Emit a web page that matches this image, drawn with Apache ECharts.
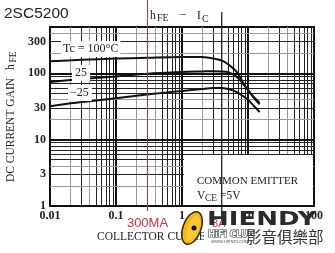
<!DOCTYPE html>
<html><head><meta charset="utf-8">
<script src="https://cdn.jsdelivr.net/npm/echarts@6/dist/echarts.min.js"></script>
<style>html,body{margin:0;padding:0;background:#fff}#c{width:335px;height:253px}</style>
</head><body><div id="c"></div>
<script>
// ---- data ----
const xTickValues = [0.01, 0.1, 1, 10, 100];
const yTickLabels = [1, 3, 10, 30, 100, 300];
const xMajor = [0.1, 1, 10];
const yMajor = [10, 100];
const multiples = [2, 3, 4, 5, 6, 7, 8, 9];
const xDecades = [0.01, 0.1, 1, 10];
const yDecades = [1, 10, 100];
const yTopLimit = 500;
const curveTc100 = [[0.01,152],[0.03,160],[0.1,167],[0.3,172],[1,177],[2,176],[3,168],[4,156],[5,137],[6,118],[7,100],[8,80],[9,65],[10,56],[12,44],[15,34]];
const curveTc25 = [[0.01,74],[0.03,82],[0.1,90],[0.3,99],[1,105],[2,107],[3,108],[4,107],[5,104],[6,96],[7,86],[8,74],[10,56],[12,45],[15,36]];
const curveTcM25 = [[0.01,32],[0.03,37],[0.1,42],[0.3,48],[1,54],[2,58],[3,60],[4,60],[5,58],[6,55],[7,51],[8,47],[10,40],[12,33],[15,26]];
const markerRed = 0.3;     // 300MA
const markerBlack = 4;     // 3A marker line

const SERIF = "'Liberation Serif','DejaVu Serif',serif";
const SANS = "'Liberation Sans',Arial,sans-serif";

// grid lines
const tickLabel = v => ({show: true, position: 'start', formatter: String(v), distance: 4, color: '#222', fontFamily: SERIF, fontSize: 12, fontWeight: 'bold'});
const gridLines = [];
xDecades.forEach(d => multiples.forEach(m => {
  const v = +(d * m).toPrecision(3);
  gridLines.push({xAxis: v, lineStyle: {color: (m === 2 || m === 4) ? '#9a9a9a' : '#222', width: 1, type: 'solid'}, label: {show: false}});
}));
xMajor.forEach(v => gridLines.push({xAxis: v, lineStyle: {color: '#111', width: 2, type: 'solid'}, label: {show: false}}));
yDecades.forEach(d => multiples.forEach(m => {
  const v = d * m;
  if (v >= yTopLimit) return;
  const isLab = yTickLabels.indexOf(v) >= 0;
  gridLines.push({yAxis: v, lineStyle: {color: (m === 2 || m === 4) ? '#9a9a9a' : '#222', width: 1, type: 'solid'},
    label: isLab ? tickLabel(v) : {show: false}});
}));
yMajor.concat([1]).forEach(v => gridLines.push({yAxis: v, lineStyle: {color: '#111', width: 2, type: 'solid'}, label: tickLabel(v)}));

const chart = echarts.init(document.getElementById('c'), null, {renderer: 'canvas'});
const curveStyle = {color: '#111', width: 2};
const mkCurve = (name, data) => ({type: 'line', name, data, smooth: 0.3, symbol: 'none', lineStyle: curveStyle, z: 5, silent: true, animation: false});

chart.setOption({
  animation: false,
  grid: {left: 50, top: 27, right: 21, bottom: 47, show: true, borderColor: '#111', borderWidth: 2, backgroundColor: '#fff'},
  xAxis: {type: 'log', logBase: 10, min: xTickValues[0], max: xTickValues[xTickValues.length - 1],
    axisLine: {show: false}, axisTick: {show: false}, splitLine: {show: false},
    axisLabel: {margin: 4, color: '#222', fontFamily: SERIF, fontSize: 12, fontWeight: 'bold',
      formatter: v => String(+(+v).toPrecision(3))}},
  yAxis: {type: 'log', logBase: 10, min: 1, max: yTopLimit,
    axisLine: {show: false}, axisTick: {show: false}, splitLine: {show: false}, axisLabel: {show: false}},
  series: [
    {type: 'line', data: [], z: 1, silent: true,
      markLine: {silent: true, symbol: ['none', 'none'], animation: false, data: gridLines, emphasis: {disabled: true}}},
    mkCurve('100', curveTc100),
    mkCurve('25', curveTc25),
    mkCurve('-25', curveTcM25)
  ]
});

const px = v => chart.convertToPixel({xAxisIndex: 0}, v);
const xr = px(markerRed), xb = px(markerBlack);

const txt = (x, y, text, font, fill, extra, z) => ({type: 'text', z: z || 50, x, y,
  style: Object.assign({text, font, fill: fill || '#222', align: 'left', verticalAlign: 'middle'}, extra || {})});

chart.setOption({graphic: {elements: [
  // white box behind COMMON EMITTER
  {type: 'rect', z: 40, shape: {x: 184, y: 155, width: 129, height: 50}, style: {fill: '#fff'}},
  txt(197, 181, 'COMMON EMITTER', '11px ' + SERIF, '#222'),
  txt(197, 196, 'V', '11.5px ' + SERIF, '#222'),
  txt(205, 198, 'CE', '9.5px ' + SERIF, '#222'),
  txt(220, 196, '=5V', '11.5px ' + SERIF, '#222'),
  // curve labels
  txt(61, 49, 'Tc = 100°C', '12px ' + SERIF, '#222', {backgroundColor: '#fff', padding: [2, 2, 2, 2]}),
  txt(72, 73, '25', '12px ' + SERIF, '#222', {backgroundColor: '#fff', padding: [2, 3, 2, 3]}),
  txt(68, 93, '−25', '12px ' + SERIF, '#222', {backgroundColor: '#fff', padding: [2, 3, 2, 2]}),
  // titles
  txt(4, 14, '2SC5200', '15.5px ' + SANS, '#222'),
  txt(150, 16, 'h', '11.5px ' + SERIF, '#222'),
  txt(157, 18.5, 'FE', '10px ' + SERIF, '#222'),
  txt(179, 16, '−', '13px ' + SERIF, '#222'),
  txt(197, 16, 'I', '11.5px ' + SERIF, '#222'),
  txt(202, 19, 'C', '10px ' + SERIF, '#222'),
  // y title (rotated)
  {type: 'text', z: 50, x: 11, y: 130, rotation: Math.PI / 2,
    style: {text: 'DC CURRENT GAIN', font: '11.5px ' + SERIF, fill: '#222', align: 'center', verticalAlign: 'middle'}},
  {type: 'text', z: 50, x: 11, y: 67, rotation: Math.PI / 2,
    style: {text: 'h', font: '11.5px ' + SERIF, fill: '#222', align: 'center', verticalAlign: 'middle'}},
  {type: 'text', z: 50, x: 13, y: 57, rotation: Math.PI / 2,
    style: {text: 'FE', font: '9.5px ' + SERIF, fill: '#222', align: 'center', verticalAlign: 'middle'}},
  // x title
  txt(97, 237, 'COLLECTOR CURRENT  I', '11.5px ' + SERIF, '#222'),
  txt(240, 239, 'C', '9.5px ' + SERIF, '#222'),
  txt(250, 237, '(A)', '11.5px ' + SERIF, '#222'),
  // marker lines
  {type: 'line', z: 60, shape: {x1: xr, y1: 0, x2: xr, y2: 211}, style: {stroke: '#b8323f', lineWidth: 1}},
  txt(xr, 223, '300MA', '13px ' + SANS, '#c8323f', {align: 'center'}, 60),
  {type: 'line', z: 60, shape: {x1: xb, y1: 12, x2: xb, y2: 218}, style: {stroke: '#111', lineWidth: 1.2}},
  // logo background strip
  {type: 'rect', z: 70, shape: {x: 204, y: 229, width: 131, height: 16}, style: {fill: '#fff'}},
  txt(xb - 3, 224, '3A', '11px ' + SANS, '#c8323f', {align: 'center'}, 75),
  // logo disc
  {type: 'ellipse', z: 80, x: 192, y: 228, rotation: -0.35, shape: {cx: 0, cy: 0, rx: 9, ry: 17},
    style: {fill: '#f2b81a', stroke: '#3a2a10', lineWidth: 1.5}},
  {type: 'ellipse', z: 81, x: 193, y: 228, rotation: -0.35, shape: {cx: 0, cy: 0, rx: 5.5, ry: 13},
    style: {fill: '#f7c93a', stroke: null}},
  {type: 'circle', z: 82, shape: {cx: 194, cy: 228, r: 2.5}, style: {fill: '#111'}},
  // logo text
  {type: 'text', z: 90, x: 207, y: 220, scaleX: 1.3,
    style: {text: 'HIENDY', font: 'bold 20px ' + "'DejaVu Sans',sans-serif", fill: '#2a2a2a', align: 'left', verticalAlign: 'middle'}},
  txt(208, 235, 'HiFi CLUB', 'bold 8.5px ' + "'DejaVu Sans',sans-serif", '#fff', {stroke: '#333', lineWidth: 1.2}, 90),
  txt(211, 242, 'WWW.HIENDY.COM', '4px ' + "'DejaVu Sans',sans-serif", '#555', null, 90),
  txt(246, 237, '影音俱樂部', '15.5px ' + "'Noto Sans CJK TC',sans-serif", '#333', null, 90)
]}});
</script></body></html>
